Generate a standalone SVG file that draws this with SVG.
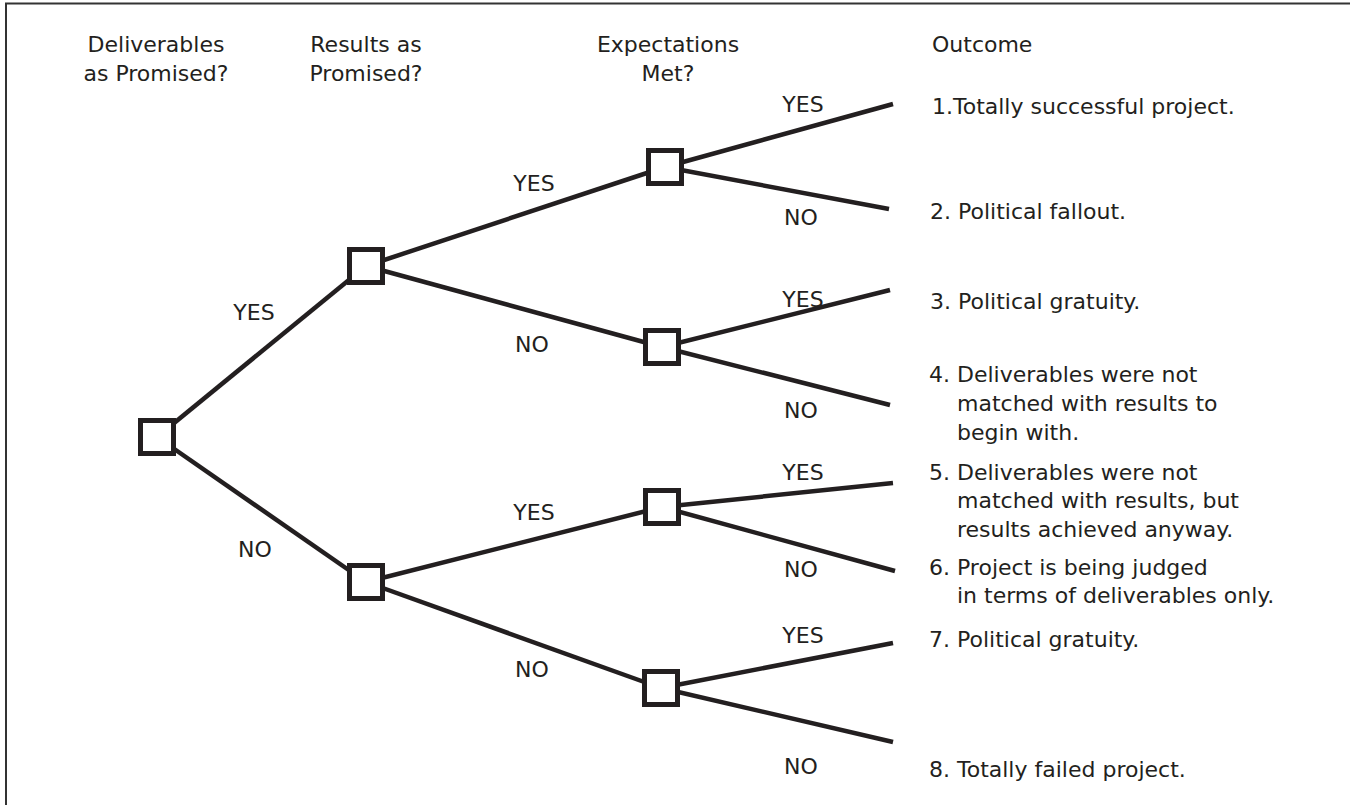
<svg xmlns="http://www.w3.org/2000/svg" width="1350" height="805" viewBox="0 0 1350 805">
<style>
text{font-family:"DejaVu Sans","Liberation Sans",Arial,sans-serif;font-size:22px;fill:#231f20}
.c{text-anchor:middle}
.ln line{stroke:#231f20;stroke-width:4.5}
.box{fill:#fff;stroke:#231f20;stroke-width:5}
</style>
<rect width="1350" height="805" fill="#fff"/>
<path d="M6 805V3.5H1350" fill="none" stroke="#333" stroke-width="2"/>
<g id="headers">
<text class="c" x="156" y="52">Deliverables</text>
<text class="c" x="156" y="81">as Promised?</text>
<text class="c" x="366" y="52">Results as</text>
<text class="c" x="366" y="81">Promised?</text>
<text class="c" x="668" y="52">Expectations</text>
<text class="c" x="668" y="81">Met?</text>
<text x="932" y="52">Outcome</text>
</g>
<g id="connectors" class="ln">
<line x1="157" y1="437" x2="366" y2="266"/>
<line x1="157" y1="437" x2="366" y2="582"/>
<line x1="366" y1="266" x2="665" y2="167"/>
<line x1="366" y1="266" x2="662" y2="347"/>
<line x1="366" y1="582" x2="662" y2="507"/>
<line x1="366" y1="582" x2="661" y2="688"/>
<line x1="665" y1="167" x2="893" y2="104"/>
<line x1="665" y1="167" x2="889" y2="209"/>
<line x1="662" y1="347" x2="890" y2="290"/>
<line x1="662" y1="347" x2="890" y2="405"/>
<line x1="662" y1="507" x2="893" y2="483"/>
<line x1="662" y1="507" x2="895" y2="571"/>
<line x1="661" y1="688" x2="893" y2="643"/>
<line x1="661" y1="688" x2="893" y2="742"/>
</g>
<g id="labels">
<text class="c" x="254" y="320">YES</text>
<text class="c" x="255" y="557">NO</text>
<text class="c" x="534" y="191">YES</text>
<text class="c" x="532" y="352">NO</text>
<text class="c" x="534" y="520">YES</text>
<text class="c" x="532" y="677">NO</text>
<text class="c" x="803" y="112">YES</text>
<text class="c" x="801" y="225">NO</text>
<text class="c" x="803" y="307">YES</text>
<text class="c" x="801" y="418">NO</text>
<text class="c" x="803" y="480">YES</text>
<text class="c" x="801" y="577">NO</text>
<text class="c" x="803" y="643">YES</text>
<text class="c" x="801" y="774">NO</text>
</g>
<g id="n0"><rect class="box" x="140.5" y="420.5" width="33" height="33"/></g>
<g id="n1"><rect class="box" x="349.5" y="249.5" width="33" height="33"/></g>
<g id="n2"><rect class="box" x="349.5" y="565.5" width="33" height="33"/></g>
<g id="n3"><rect class="box" x="648.5" y="150.5" width="33" height="33"/></g>
<g id="n4"><rect class="box" x="645.5" y="330.5" width="33" height="33"/></g>
<g id="n5"><rect class="box" x="645.5" y="490.5" width="33" height="33"/></g>
<g id="n6"><rect class="box" x="644.5" y="671.5" width="33" height="33"/></g>
<g id="outcomes">
<text x="932" y="114">1.Totally successful project.</text>
<text x="930" y="219">2. Political fallout.</text>
<text x="930" y="309">3. Political gratuity.</text>
<text x="929" y="382">4. Deliverables were not</text>
<text x="957" y="411">matched with results to</text>
<text x="957" y="440">begin with.</text>
<text x="929" y="480">5. Deliverables were not</text>
<text x="957" y="508">matched with results, but</text>
<text x="957" y="537">results achieved anyway.</text>
<text x="929" y="575">6. Project is being judged</text>
<text x="957" y="603">in terms of deliverables only.</text>
<text x="929" y="647">7. Political gratuity.</text>
<text x="929" y="777">8. Totally failed project.</text>
</g>
</svg>
